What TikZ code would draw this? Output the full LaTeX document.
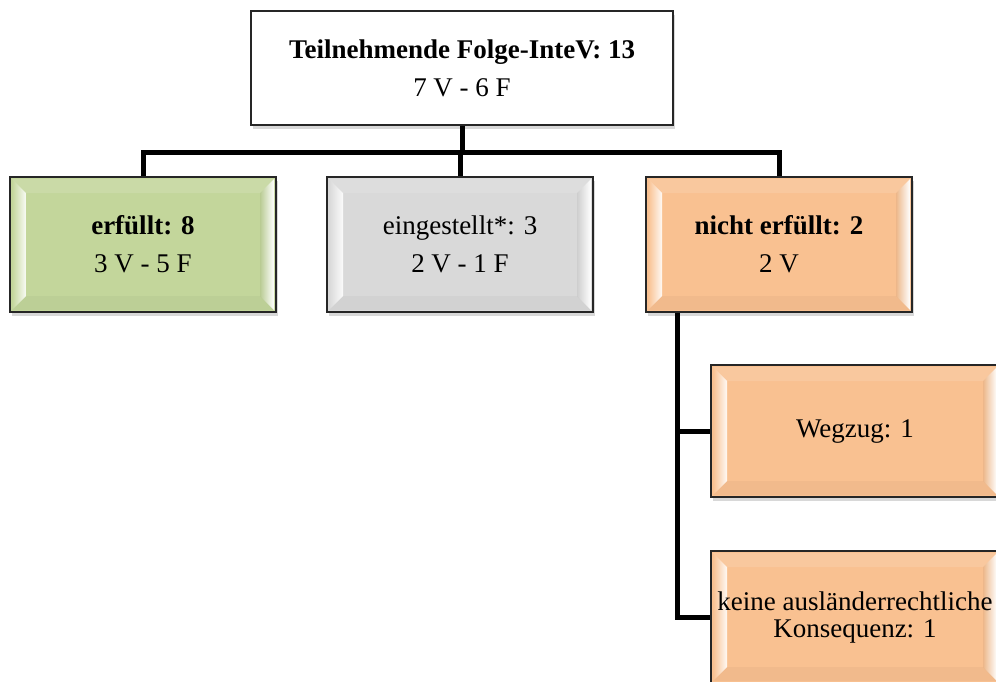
\documentclass[tikz,border=0pt]{standalone}
\usepackage{fontspec}
\setmainfont{Liberation Serif}
\usetikzlibrary{shadows,calc}
\definecolor{greenf}{HTML}{C3D69B}
\definecolor{grayf}{HTML}{D9D9D9}
\definecolor{orangef}{HTML}{F9C191}
\tikzset{
  box/.style={rectangle, draw=black!85, line width=1.5pt, inner sep=0pt, align=center,
    font=\fontsize{27}{38}\selectfont,
    drop shadow={shadow xshift=2pt, shadow yshift=-4pt, opacity=0.3}},
  bevel/.style={fill=#1, path picture={
    \coordinate (sw) at (path picture bounding box.south west);
    \coordinate (ne) at (path picture bounding box.north east);
    \coordinate (nw) at (sw|-ne);
    \coordinate (se) at (ne|-sw);
    \shade[left color=#1, right color=white!90!#1]
      ([xshift=2pt,yshift=2pt]sw) -- ([xshift=16pt,yshift=16pt]sw) -- ([xshift=16pt,yshift=-16pt]nw) -- ([xshift=2pt,yshift=-2pt]nw) -- cycle;
    \shade[left color=#1!95!black, right color=white]
      ([xshift=-2pt,yshift=2pt]se) -- ([xshift=-16pt,yshift=16pt]se) -- ([xshift=-16pt,yshift=-16pt]ne) -- ([xshift=-2pt,yshift=-2pt]ne) -- cycle;
    \fill[white, opacity=0.12]
      ([xshift=2pt,yshift=-2pt]nw) -- ([xshift=16pt,yshift=-16pt]nw) -- ([xshift=-16pt,yshift=-16pt]ne) -- ([xshift=-2pt,yshift=-2pt]ne) -- cycle;
    \fill[black, opacity=0.03]
      ([xshift=2pt,yshift=2pt]sw) -- ([xshift=16pt,yshift=16pt]sw) -- ([xshift=-16pt,yshift=16pt]se) -- ([xshift=-2pt,yshift=2pt]se) -- cycle;
  }},
  conn/.style={line width=5pt, black}
}
\begin{document}
\begin{tikzpicture}[x=1pt, y=-1pt]
\clip (0,0) rectangle (996,681);
\fill[white] (0,0) rectangle (996,681);
\node[box, fill=white, minimum width=422pt, minimum height=114pt] (top) at (462,68)
  {\textbf{Teilnehmende Folge-InteV: 13}\\7 V - 6 F};
\node[box, bevel=greenf, minimum width=266pt, minimum height=135pt] (green) at (143,244.5)
  {\textbf{erfüllt: 8}\\3 V - 5 F};
\node[box, bevel=grayf, minimum width=266pt, minimum height=135pt] (gray) at (460,244.5)
  {eingestellt*: 3\\2 V - 1 F};
\node[box, bevel=orangef, minimum width=266pt, minimum height=135pt] (orange) at (779,244.5)
  {\textbf{nicht erfüllt: 2}\\2 V};
\node[box, bevel=orangef, minimum width=288pt, minimum height=132pt] (wegzug) at (855,431)
  {Wegzug: 1};
\node[box, bevel=orangef, minimum width=288pt, minimum height=132pt,
  font=\fontsize{27}{27}\selectfont] (keine) at (855,617)
  {keine ausländerrechtliche\\Konsequenz: 1};
\coordinate (bar) at (0,152);
\draw[conn] (top.south) -- (top.south|-bar);
\draw[conn] (green.north) -- (green.north|-bar) -- (orange.north|-bar) -- (orange.north);
\draw[conn] (gray.north|-bar) -- (gray.north);
\coordinate (ob) at ($(orange.south west)+(32,0)$);
\draw[conn] (ob) -- (ob|-keine.west) -- (keine.west);
\draw[conn] (ob|-wegzug.west) -- (wegzug.west);
\end{tikzpicture}
\end{document}
